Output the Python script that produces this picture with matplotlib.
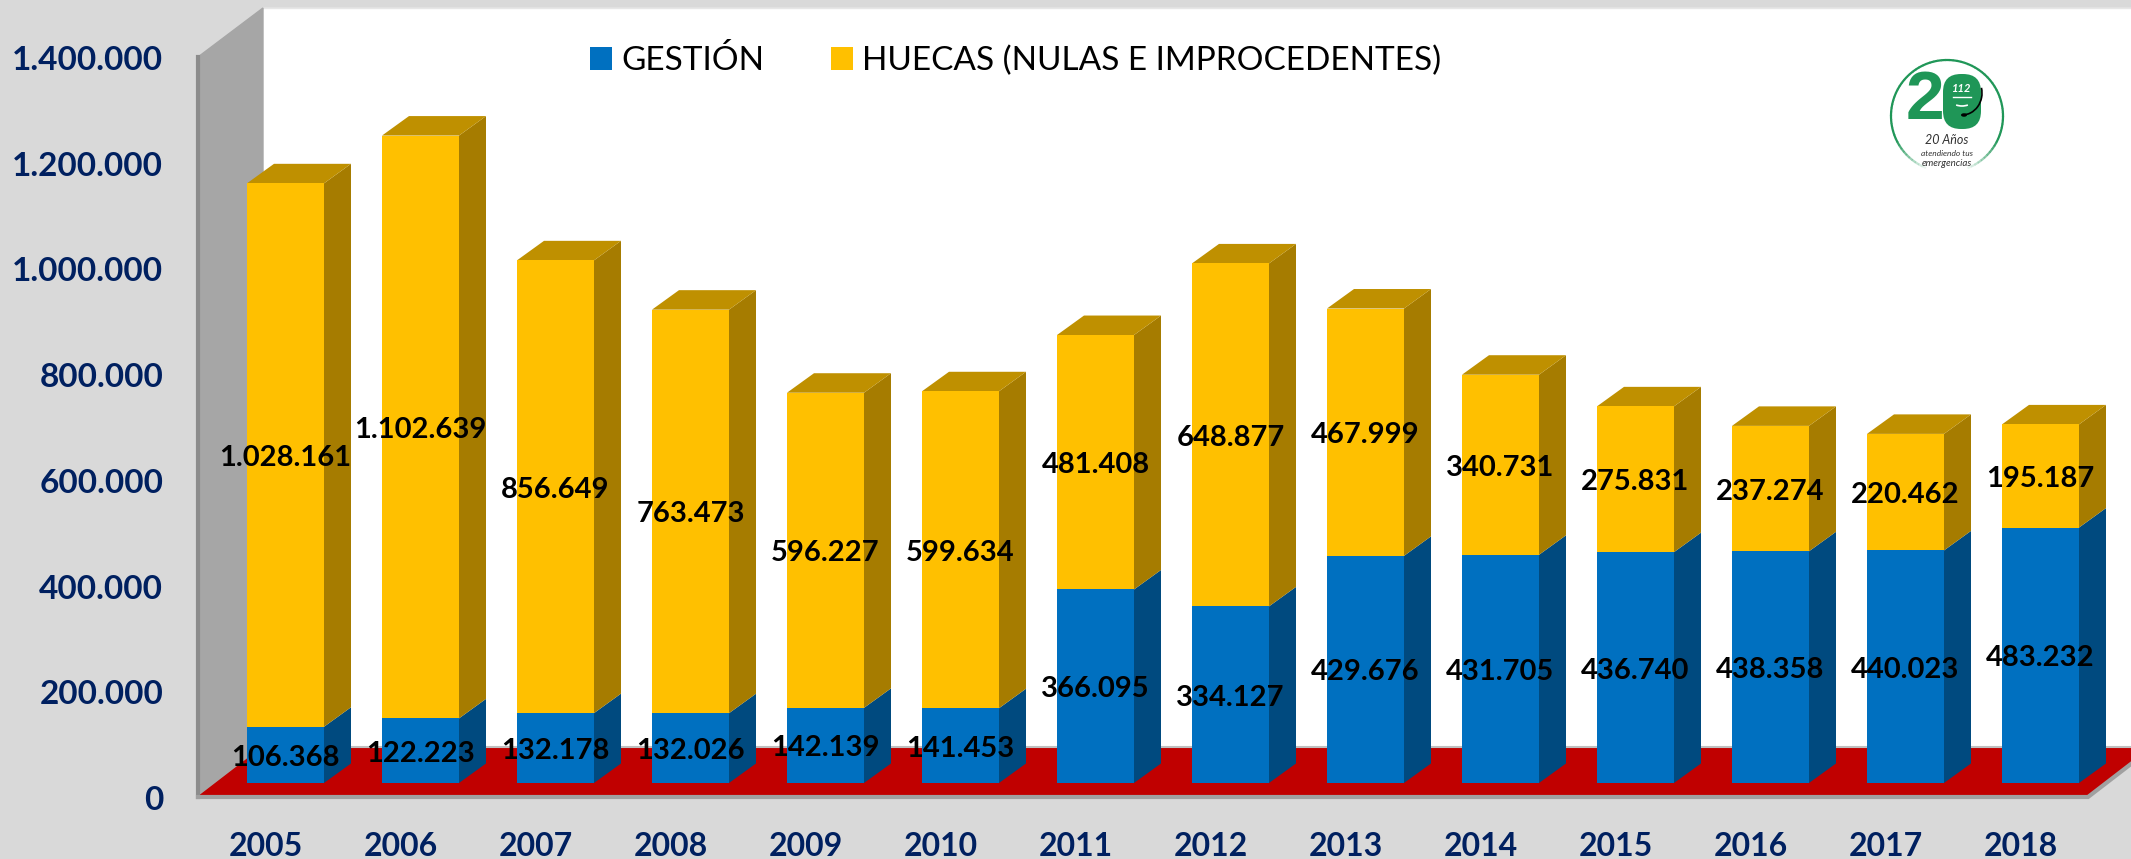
import matplotlib
matplotlib.use('Agg')
import matplotlib.pyplot as plt
from matplotlib.patches import Arc, Ellipse, FancyBboxPatch
from matplotlib.transforms import ScaledTranslation, offset_copy

plt.rcParams['font.family'] = ['Lato', 'DejaVu Sans']

years = ['2005', '2006', '2007', '2008', '2009', '2010', '2011',
         '2012', '2013', '2014', '2015', '2016', '2017', '2018']
gestion = [106368, 122223, 132178, 132026, 142139, 141453, 366095,
           334127, 429676, 431705, 436740, 438358, 440023, 483232]
huecas = [1028161, 1102639, 856649, 763473, 596227, 599634, 481408,
          648877, 467999, 340731, 275831, 237274, 220462, 195187]
y_ticks = [0, 200000, 400000, 600000, 800000, 1000000, 1200000, 1400000]

W, H = 2131, 859
NAVY = '#002060'


def fmt(value):
    return f'{value:,}'.replace(',', '.')


fig = plt.figure(figsize=(W / 100, H / 100), dpi=100, facecolor='#d9d9d9')
ax = fig.add_axes([198 / W, (H - 797) / H, 1890 / W, 740 / H])
ax.patch.set_alpha(0)
ax.set_xlim(-0.5, 13.5)
ax.set_ylim(0, 1400000)
for side in ax.spines.values():
    side.set_visible(False)

# px to data units
ux = 14 / 1890
uy = 1400000 / 740

# back wall and floor are pushed back from the front plane
wall_dx, wall_dy = 65 * ux, 50 * uy
wall_top = 1400000 + 49 * uy
ax.fill([-0.5 + wall_dx, 14.5, 14.5, -0.5 + wall_dx],
        [wall_dy, wall_dy, wall_top, wall_top],
        color='white', clip_on=False, zorder=1)
ax.plot([-0.5 + wall_dx, 14.5], [wall_top, wall_top], color='#e6e6e6',
        lw=1, clip_on=False, zorder=1)
ax.fill([-0.5, -0.5 + wall_dx, -0.5 + wall_dx, -0.5],
        [0, wall_dy, wall_top, 1400000],
        color='#a6a6a6', clip_on=False, zorder=1)
ax.fill([-0.5, -0.5 + wall_dx, 13.5 + wall_dx, 13.5],
        [0, wall_dy, wall_dy, 0],
        color='#c00000', clip_on=False, zorder=2)
ax.plot([-0.5, -0.5], [0, 1400000], color='#8c8c8c', lw=3, clip_on=False, zorder=2)
ax.plot([-0.5, 13.5, 13.5 + wall_dx], [0, 0, wall_dy], color='#a0a0a0', lw=3,
        clip_on=False, zorder=2, solid_joinstyle='miter')
ax.plot([-0.5 + wall_dx, 14.5], [wall_dy, wall_dy], color='#bfbfbf', lw=1.5,
        clip_on=False, zorder=2)

# bars sit 20px right and 14px above the front plane
bar_tr = offset_copy(ax.transData, fig, x=20, y=14, units='dots')
label_tr = offset_copy(ax.transData, fig, x=20, y=11, units='dots')
bar_w = 77 * ux
dep_x, dep_y = 27 * ux, 19.5 * uy

xs = list(range(len(years)))
totals = [a + b for a, b in zip(gestion, huecas)]

ax.bar(xs, gestion, width=bar_w, color='#0070c0', transform=bar_tr, zorder=4,
       label='GESTIÓN', clip_on=False)
ax.bar(xs, huecas, bottom=gestion, width=bar_w, color='#ffc000', transform=bar_tr,
       zorder=4, label='HUECAS (NULAS E IMPROCEDENTES)', clip_on=False)

for x, g, t in zip(xs, gestion, totals):
    r = x + bar_w / 2
    l = x - bar_w / 2
    ax.fill([r, r + dep_x, r + dep_x, r], [0, dep_y, g + dep_y, g],
            color='#004a7f', lw=0, transform=bar_tr, zorder=3, clip_on=False)
    ax.fill([r, r + dep_x, r + dep_x, r], [g, g + dep_y, t + dep_y, t],
            color='#a67c00', lw=0, transform=bar_tr, zorder=3, clip_on=False)
    ax.fill([l, l + dep_x, r + dep_x, r], [t, t + dep_y, t + dep_y, t],
            color='#bf9000', lw=0, transform=bar_tr, zorder=3, clip_on=False)

for x, g, h in zip(xs, gestion, huecas):
    ax.text(x, g / 2, fmt(g), transform=label_tr, ha='center', va='center',
            fontsize=21, fontweight='bold', color='black', zorder=6, clip_on=False)
    ax.text(x, g + h / 2, fmt(h), transform=label_tr, ha='center', va='center',
            fontsize=21, fontweight='bold', color='black', zorder=6, clip_on=False)

ax.set_xticks(xs)
ax.set_xticklabels(years, fontsize=23, fontweight='bold', color=NAVY)
ax.set_yticks(y_ticks)
ax.set_yticklabels([fmt(v) for v in y_ticks], fontsize=24, fontweight='bold', color=NAVY)
ax.tick_params(axis='x', length=0, pad=25)
ax.tick_params(axis='y', length=0, pad=25)
for lab in ax.get_yticklabels():
    lab.set_transform(lab.get_transform() + ScaledTranslation(0, -1 / 100, fig.dpi_scale_trans))

leg = ax.legend(loc='upper left', bbox_to_anchor=(590 / W, (H - 45) / H),
                bbox_transform=fig.transFigure, ncols=2, frameon=False, fontsize=24,
                handlelength=0.66, handleheight=0.66, handletextpad=0.27,
                columnspacing=2.0, borderpad=0, borderaxespad=0, labelcolor='black')
leg.set_zorder(7)

# logo, in reference pixel coordinates
logo = fig.add_axes([1880 / W, (H - 185) / H, 135 / W, 135 / H], zorder=8)
logo.set_xlim(1880, 2015)
logo.set_ylim(185, 50)
logo.axis('off')
GREEN = '#1f9657'
for start in range(0, 360, 4):
    # lower part of the ring fades to white
    d = abs(start + 2 - 90)
    fade = min(1.0, max(0.0, (d - 20) / 45))
    logo.add_patch(Arc((1947, 116), 112, 112, theta1=start, theta2=start + 4.5,
                       color=GREEN, lw=1.6, alpha=fade))
logo.text(1925, 101, '2', fontsize=50, fontweight='bold', color=GREEN,
          ha='center', va='center', family='Liberation Sans')
logo.add_patch(FancyBboxPatch((1945, 76), 34, 51, boxstyle='round,pad=2,rounding_size=18',
                              fc=GREEN, ec='none', zorder=2))
logo.text(1962, 89, '112', fontsize=8, fontweight='bold', style='italic', color='white',
          ha='center', va='center', zorder=4)
logo.plot([1953, 1971], [97, 97], color='white', lw=1, zorder=4)
logo.add_patch(Arc((1962, 98), 24, 16, theta1=50, theta2=130, color='white', lw=1.2, zorder=4))
logo.add_patch(Arc((1962, 93), 40, 44, theta1=-15, theta2=90, color='black', lw=1.2, zorder=4))
logo.add_patch(Ellipse((1964, 115), 6, 3.5, fc='black', ec='none', zorder=4))
logo.text(1947, 140, '20 Años', fontsize=9, color='#333333', ha='center', va='center',
          style='italic')
logo.text(1947, 154, 'atendiendo tus', fontsize=6, color='#333333', ha='center',
          va='center', style='italic')
logo.text(1947, 163, 'emergencias', fontsize=7, color='#333333', ha='center',
          va='center', style='italic')

fig.savefig('out.png', dpi=100, facecolor=fig.get_facecolor())
